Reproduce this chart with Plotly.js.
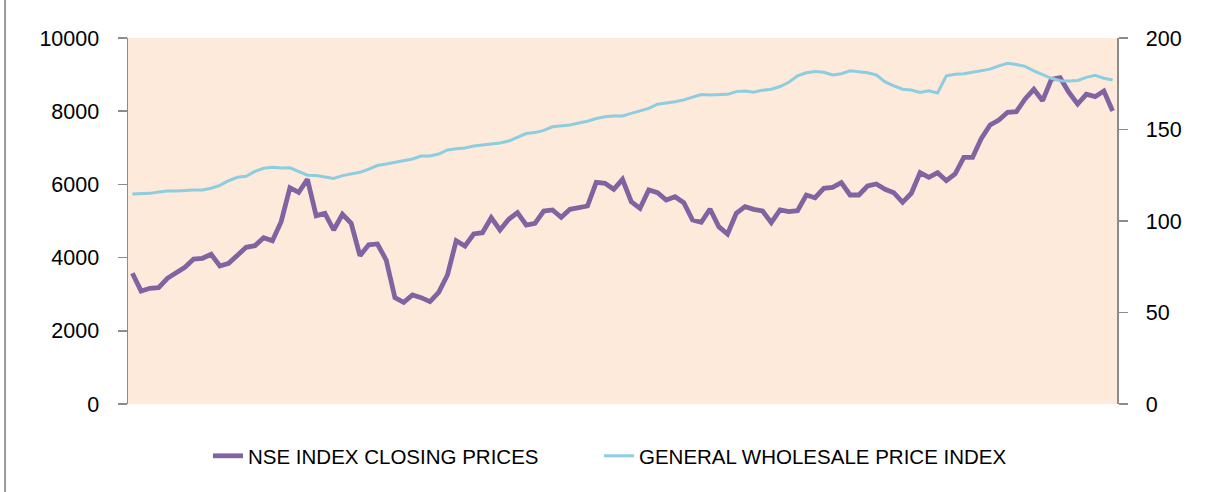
<!DOCTYPE html>
<html>
<head>
<meta charset="utf-8">
<script src="https://cdn.plot.ly/plotly-3.0.1.min.js"></script>
<style>html,body{margin:0;padding:0;background:#fff;}#chart{width:1205px;height:492px;}</style>
</head>
<body>
<div id="chart"></div>
<script>
const seriesNames = ["NSE INDEX CLOSING PRICES", "GENERAL WHOLESALE PRICE INDEX"];

const nseClose = [
  3571, 3087, 3161, 3178, 3434, 3571, 3735, 3962, 3981, 4090,
  3770, 3844, 4071, 4281, 4325, 4544, 4462, 4981, 5910, 5784,
  6139, 5145, 5210, 4754, 5183, 4937, 4052, 4350, 4372, 3934,
  2905, 2778, 2978, 2905, 2796, 3051, 3525, 4463, 4317, 4645,
  4681, 5091, 4754, 5046, 5228, 4891, 4937, 5273, 5301, 5101,
  5319, 5374, 5410, 6057, 6030, 5866, 6139, 5527, 5347, 5847,
  5773, 5574, 5664, 5500, 5027, 4964, 5328, 4845, 4645, 5210,
  5391, 5319, 5273, 4954, 5301, 5255, 5282, 5710, 5637, 5893,
  5920, 6047, 5710, 5710, 5956, 6011, 5866, 5774, 5510, 5757,
  6320, 6194, 6320, 6101, 6284, 6740, 6740, 7259, 7623, 7760,
  7970, 7987, 8333, 8598, 8287, 8871, 8915, 8516, 8197, 8462,
  8397, 8552, 8005
];

const wpi = [
  114.8, 114.8, 115.1, 115.9, 116.4, 116.4, 116.8, 117.0, 117.0, 117.9,
  119.5, 122.0, 123.9, 124.4, 127.1, 128.8, 129.3, 128.9, 129.1, 127.1,
  125.0, 124.8, 123.9, 123.3, 124.8, 125.8, 126.6, 128.3, 130.3, 131.1,
  132.0, 133.3, 133.9, 135.5, 135.5, 136.6, 138.8, 139.5, 139.9, 141.0,
  141.4, 142.1, 142.6, 143.7, 145.9, 147.8, 148.3, 149.5, 151.5, 152.0,
  152.5, 153.5, 154.5, 156.0, 157.0, 157.4, 157.4, 158.8, 160.0, 161.5,
  163.8, 164.4, 165.2, 166.2, 167.8, 169.1, 168.9, 169.0, 169.2, 170.7,
  171.0, 170.4, 171.5, 172.0, 173.5, 175.8, 179.3, 181.0, 181.7, 181.3,
  179.8, 180.5, 182.1, 181.5, 181.0, 179.8, 176.0, 173.8, 172.0, 171.6,
  170.3, 171.2, 170.0, 179.3, 180.2, 180.5, 181.2, 181.9, 183.0, 184.8,
  186.2, 185.5, 184.5, 182.0, 179.8, 178.0, 176.7, 176.5, 176.8, 178.5,
  179.6, 178.0, 177.0
];

const periods = nseClose.map((_, i) => i + 1);
const leftTicks = [0, 2000, 4000, 6000, 8000, 10000];
const rightTicks = [0, 50, 100, 150, 200];

const font = "Liberation Sans, Arial, sans-serif";

const traces = [
  {
    x: periods, y: nseClose, name: seriesNames[0], type: "scatter", mode: "lines",
    line: {color: "#8064A2", width: 4.8, shape: "linear"}, yaxis: "y", legend: "legend"
  },
  {
    x: periods, y: wpi, name: seriesNames[1], type: "scatter", mode: "lines",
    line: {color: "#8CCDE0", width: 3, shape: "linear"}, yaxis: "y2", legend: "legend2"
  }
];

const legendCommon = {
  orientation: "h", xanchor: "left", y: -0.142, yanchor: "middle",
  font: {family: font, size: 20.5, color: "#000"},
  bgcolor: "rgba(0,0,0,0)", itemwidth: 30
};

const layout = {
  width: 1205, height: 492,
  margin: {l: 128, r: 88, t: 38, b: 88, pad: 0},
  paper_bgcolor: "#ffffff",
  plot_bgcolor: "#FDEADA",
  font: {family: font, size: 21, color: "#000"},
  showlegend: true,
  xaxis: {
    range: [0.5, periods.length + 0.5],
    showgrid: false, zeroline: false, showline: false,
    showticklabels: false, ticks: ""
  },
  yaxis: {
    range: [0, 10000], tickvals: leftTicks, ticktext: leftTicks.map(String),
    showgrid: false, zeroline: false,
    showline: true, linecolor: "#8c8c8c", linewidth: 1.5,
    ticks: "outside", ticklen: 9, tickcolor: "#8c8c8c", tickwidth: 1.5,
    ticklabelstandoff: 14,
    tickfont: {family: font, size: 21.5, color: "#000"}
  },
  yaxis2: {
    range: [0, 200], tickvals: rightTicks, ticktext: rightTicks.map(String),
    overlaying: "y", side: "right",
    showgrid: false, zeroline: false,
    showline: true, linecolor: "#8c8c8c", linewidth: 1.5,
    ticks: "outside", ticklen: 9, tickcolor: "#8c8c8c", tickwidth: 1.5,
    ticklabelstandoff: 14,
    tickfont: {family: font, size: 21.5, color: "#000"}
  },
  legend: Object.assign({}, legendCommon, {x: 0.0809}),
  legend2: Object.assign({}, legendCommon, {x: 0.4762}),
  shapes: [
    {type: "line", xref: "paper", yref: "paper",
     x0: -0.1243, x1: -0.1243, y0: -0.3, y1: 1.2,
     line: {color: "#9a9a9a", width: 2}}
  ]
};

Plotly.newPlot("chart", traces, layout, {displayModeBar: false, staticPlot: true});
</script>
</body>
</html>
